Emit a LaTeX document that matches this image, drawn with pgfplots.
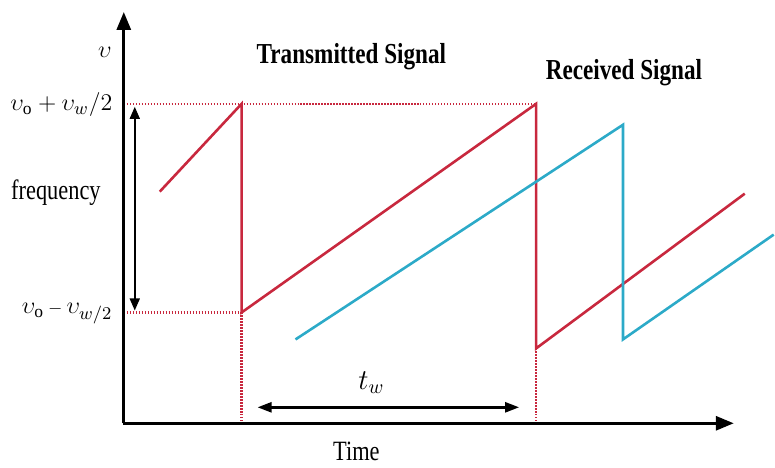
\documentclass[border=0pt]{standalone}
\usepackage{fontspec}
\setmainfont{Liberation Serif}
\newfontfamily\condfont[FakeStretch=0.8]{Liberation Serif}
\usepackage{pgfplots}
\pgfplotsset{compat=1.18}
\usetikzlibrary{arrows.meta}
\definecolor{sigred}{RGB}{200,40,62}
\definecolor{sigblue}{RGB}{44,170,200}
\begin{document}
\begin{tikzpicture}[x=1pt,y=1pt]
\begin{axis}[
  scale only axis,
  width=387.5pt, height=233.5pt,
  xmin=0, xmax=775, ymin=0, ymax=467,
  hide axis, clip=false,
]
% bounds
\path (axis cs:0,0) rectangle (axis cs:775,467);
% dotted guides
\addplot[sigred, line width=1.2pt, dash pattern=on 0.6pt off 0.9pt] coordinates {(124,363) (537,363)};
\addplot[sigred, line width=1.2pt, dash pattern=on 0.6pt off 0.9pt] coordinates {(124,154) (242,154)};
\addplot[sigred, line width=1.2pt, dash pattern=on 0.6pt off 0.9pt] coordinates {(242,154) (242,43)};
\addplot[sigred, line width=1.2pt, dash pattern=on 0.6pt off 0.9pt] coordinates {(537,118) (537,43)};
% axes
\addplot[black, line width=1.5pt, -{Triangle[length=9pt,width=7pt]}] coordinates {(124,43) (124,455)};
\addplot[black, line width=1.5pt, -{Triangle[length=9pt,width=7pt]}] coordinates {(123,43) (735,43)};
% transmitted signal
\addplot[sigred, line width=1.3pt] coordinates {(160,275) (242,363) (242,154) (537,363) (537,118) (746,273)};
% received signal
\addplot[sigblue, line width=1.3pt] coordinates {(296,127) (624,342) (624,127) (775,232)};
% double arrows
\addplot[black, line width=0.8pt, {Triangle[length=6pt,width=5pt]}-{Triangle[length=6pt,width=5pt]}] coordinates {(135,360) (135,156)};
\addplot[black, line width=1.2pt, {Triangle[length=7pt,width=5pt]}-{Triangle[length=7pt,width=5pt]}] coordinates {(258,59) (520,59)};
% labels
\node at (axis cs:105,415) {\fontsize{13}{15}\selectfont $\upsilon$};
\node[anchor=east, inner sep=0pt] at (axis cs:113,362) {\fontsize{12.5}{14}\selectfont $\upsilon_{\mathrm{o}} + \upsilon_{w}/2$};
\node[anchor=east, inner sep=0pt] at (axis cs:113,153) {\fontsize{12.5}{14}\selectfont $\upsilon_{\mathrm{o}}\, {\scriptstyle -}\, \upsilon_{w/2}$};
\node at (axis cs:56,274) {\fontsize{14}{16}\selectfont\condfont frequency};
\node at (axis cs:352,410) {\fontsize{14.5}{16}\selectfont\condfont\bfseries Transmitted Signal};
\node at (axis cs:625,394) {\fontsize{14.5}{16}\selectfont\condfont\bfseries Received Signal};
\node at (axis cs:372,84) {\fontsize{14}{16}\selectfont $t_w$};
\node at (axis cs:357,15) {\fontsize{14}{16}\selectfont\condfont Time};
\end{axis}
\end{tikzpicture}
\end{document}
